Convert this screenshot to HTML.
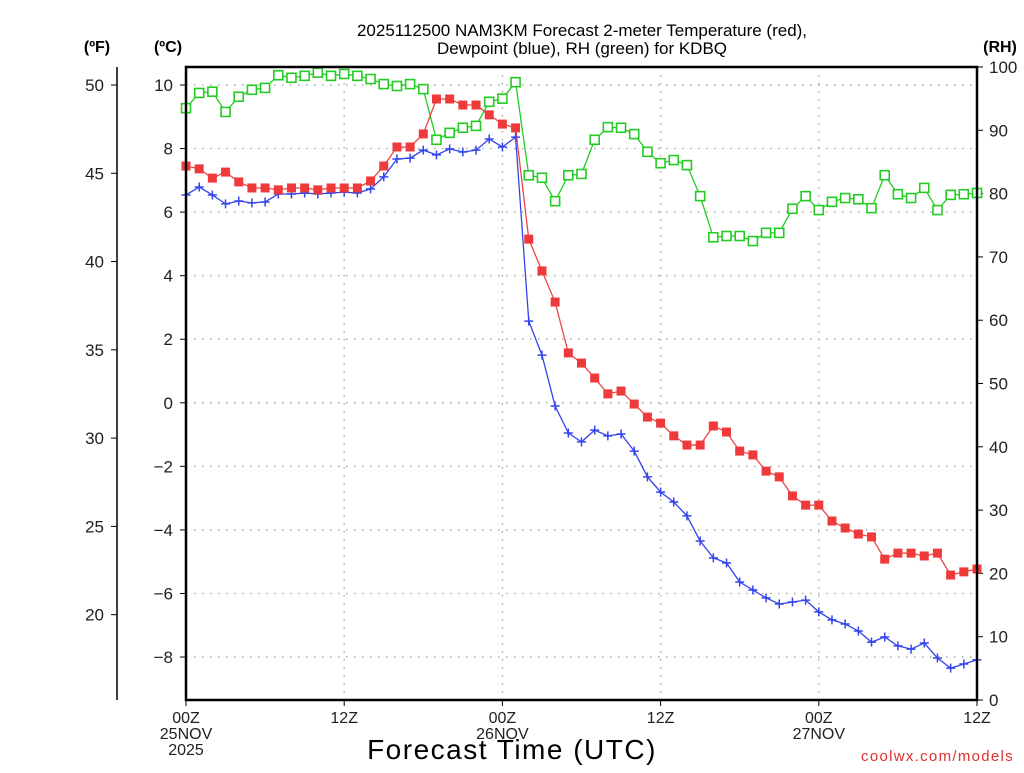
<!DOCTYPE html>
<html><head><meta charset="utf-8"><style>
body{margin:0;background:#fff;width:1024px;height:768px;overflow:hidden;font-family:"Liberation Sans",sans-serif}
svg text{font-family:"Liberation Sans",sans-serif}
</style></head><body>
<svg id="chart" width="1024" height="768" xmlns="http://www.w3.org/2000/svg">
<text x="582" y="36" font-size="17" text-anchor="middle">2025112500 NAM3KM Forecast 2-meter Temperature (red),</text>
<text x="582" y="54" font-size="17" text-anchor="middle">Dewpoint (blue), RH (green) for KDBQ</text>
<text x="97" y="52" font-size="16" font-weight="bold" text-anchor="middle">(ºF)</text>
<text x="168" y="52" font-size="16" font-weight="bold" text-anchor="middle">(ºC)</text>
<text x="1000" y="52" font-size="16" font-weight="bold" text-anchor="middle">(RH)</text>
<g id="grid"></g><g id="axes"></g><g id="series"></g>
<rect x="186" y="67" width="791" height="633" fill="none" stroke="#000" stroke-width="2.5"/>
<text x="512" y="759" font-size="28" text-anchor="middle" letter-spacing="1.5">Forecast Time (UTC)</text>
<text x="1014" y="761" font-size="15" fill="#e03030" text-anchor="end" letter-spacing="1.3" font-family="Liberation Mono">coolwx.com/models</text>
</svg>
<script>
const hours = Array.from({length:61},(_,i)=>i);
const tempC = [7.45,7.36,7.07,7.26,6.95,6.76,6.76,6.70,6.76,6.76,6.70,6.76,6.76,6.76,6.98,7.45,8.05,8.05,8.46,9.56,9.56,9.37,9.37,9.06,8.77,8.65,5.15,4.15,3.17,1.57,1.25,0.78,0.28,0.37,-0.04,-0.45,-0.64,-1.04,-1.33,-1.33,-0.73,-0.92,-1.52,-1.64,-2.15,-2.33,-2.93,-3.22,-3.22,-3.72,-3.94,-4.13,-4.22,-4.92,-4.73,-4.73,-4.82,-4.73,-5.42,-5.32,-5.23];
const dewC = [6.54,6.79,6.54,6.26,6.35,6.29,6.32,6.57,6.57,6.60,6.57,6.60,6.63,6.60,6.73,7.11,7.67,7.70,7.95,7.80,7.99,7.89,7.95,8.30,8.05,8.36,2.57,1.50,-0.10,-0.95,-1.23,-0.86,-1.04,-0.98,-1.52,-2.33,-2.81,-3.12,-3.56,-4.35,-4.88,-5.04,-5.64,-5.89,-6.14,-6.33,-6.27,-6.21,-6.58,-6.83,-6.96,-7.18,-7.53,-7.37,-7.65,-7.75,-7.56,-8.03,-8.35,-8.22,-8.09];
const rh = [93.5,95.9,96.1,92.9,95.3,96.4,96.7,98.7,98.3,98.6,99.1,98.6,98.9,98.6,98.1,97.3,97.0,97.3,96.5,88.5,89.6,90.4,90.7,94.5,95.0,97.6,82.9,82.5,78.8,82.9,83.1,88.5,90.5,90.4,89.4,86.6,84.8,85.3,84.5,79.6,73.1,73.3,73.3,72.5,73.8,73.8,77.6,79.6,77.4,78.7,79.3,79.1,77.7,82.9,79.9,79.3,80.9,77.4,79.8,79.9,80.1];
const cTicks = [10,8,6,4,2,0,-2,-4,-6,-8];
const fTicks = [50,45,40,35,30,25,20];
const rhTicks = [0,10,20,30,40,50,60,70,80,90,100];
const xTickHours = [0,12,24,36,48,60];
const xTickLabels = [["00Z","25NOV","2025"],["12Z"],["00Z","26NOV"],["12Z"],["00Z","27NOV"],["12Z"]];

const NS="http://www.w3.org/2000/svg";
const X0=186,X1=977,Y0=67,Y1=700;
const xS=h=>X0+(h/60)*(X1-X0);
const yC=c=>85+(10-c)*31.78;
const yF=f=>yC((f-32)*5/9);
const yR=r=>Y1-(r/100)*(Y1-Y0);
function mk(tag,attrs,parent,txt){const e=document.createElementNS(NS,tag);for(const k in attrs)e.setAttribute(k,attrs[k]);if(txt!==undefined)e.textContent=txt;parent.appendChild(e);return e;}
const grid=document.getElementById('grid'),axes=document.getElementById('axes'),ser=document.getElementById('series');

cTicks.forEach(c=>{const y=yC(c);
 const g=mk('line',{x1:X0,x2:X1,y1:y,y2:y,stroke:'#aaa','stroke-width':1.5,'stroke-dasharray':'1.5,6.5'},grid);
 
 
 const t=mk('line',{x1:X0-6,x2:X0,y1:y,y2:y,stroke:'#000','stroke-width':1},axes);
 
 
 const l=mk('text',{x:173,y:y+6,'font-size':17,'text-anchor':'end',fill:'#222'},axes,(c<0?'\u2212'+(-c):String(c)));
 
 
});
const fl=mk('line',{x1:117,x2:117,y1:Y0,y2:Y1,stroke:'#000','stroke-width':1.5},axes);


fTicks.forEach(f=>{const y=yF(f);
 const t=mk('line',{x1:111,x2:117,y1:y,y2:y,stroke:'#000','stroke-width':1},axes);
 
 
 const l=mk('text',{x:104,y:y+6,'font-size':17,'text-anchor':'end',fill:'#222'},axes,String(f));
 
 
});
rhTicks.forEach(r=>{const y=yR(r);
 const t=mk('line',{x1:X1,x2:X1+6,y1:y,y2:y,stroke:'#000','stroke-width':1},axes);
 
 
 const l=mk('text',{x:989,y:y+6,'font-size':17,'text-anchor':'start',fill:'#222'},axes,String(r));
 
 
});
xTickHours.forEach((h,i)=>{const x=xS(h);
 if(i>0&&i<xTickHours.length-1){const g=mk('line',{x1:x,x2:x,y1:Y0,y2:Y1,stroke:'#aaa','stroke-width':1.5,'stroke-dasharray':'1.5,6.5'},grid);
 
 }
 const t=mk('line',{x1:x,x2:x,y1:Y1,y2:Y1+6,stroke:'#000','stroke-width':1},axes);
 
 
 xTickLabels[i].forEach((s,j)=>{const l=mk('text',{x:x,y:723+j*16,'font-size':16,'text-anchor':'middle',fill:'#222'},axes,s);
 
 });
});
function line(vals,yf,color,name){
 const p=mk('polyline',{points:vals.map((v,i)=>xS(hours[i])+','+yf(v)).join(' '),fill:'none',stroke:color,'stroke-width':1.3},ser);
 
 
}
line(rh,yR,'#22cc22','rh-line');
line(dewC,yC,'#3344ee','dewpoint-line');
line(tempC,yC,'#ee4444','temperature-line');
rh.forEach((v,i)=>{const m=mk('rect',{x:xS(hours[i])-4.5,y:yR(v)-4.5,width:9,height:9,fill:'#fff',stroke:'#22cc22','stroke-width':1.6},ser);
 
 });
dewC.forEach((v,i)=>{const x=xS(hours[i]),y=yC(v);
 const m=mk('path',{d:`M${x-4.5},${y}H${x+4.5}M${x},${y-4.5}V${y+4.5}`,stroke:'#3344ee','stroke-width':1.5},ser);
 
 });
tempC.forEach((v,i)=>{const m=mk('rect',{x:xS(hours[i])-4.5,y:yC(v)-4.5,width:9,height:9,fill:'#ee3a3a'},ser);
 
 });
</script>
</body></html>
